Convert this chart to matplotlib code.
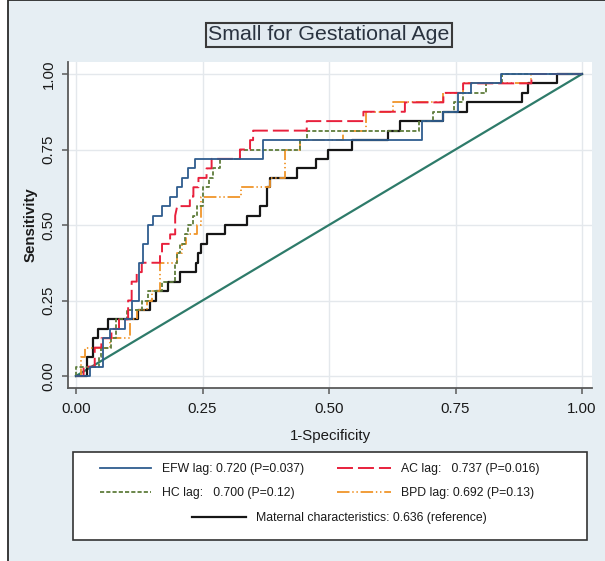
import matplotlib
matplotlib.use("Agg")
import matplotlib.pyplot as plt
from matplotlib.patches import Rectangle

# ---------------- data (FPR, TPR step vertices) ----------------
efw_x = [0, 0.028, 0.028, 0.054, 0.054, 0.067, 0.067, 0.097, 0.097, 0.11, 0.11, 0.125, 0.125,
         0.133, 0.133, 0.143, 0.143, 0.153, 0.153, 0.169, 0.169, 0.186, 0.186, 0.199, 0.199,
         0.209, 0.209, 0.222, 0.222, 0.235, 0.235, 0.37, 0.37, 0.683, 0.683, 0.725, 0.725,
         0.755, 0.755, 0.78, 0.78, 0.84, 0.84, 1.0]
efw_y = [0, 0, 0.031, 0.031, 0.125, 0.125, 0.156, 0.156, 0.188, 0.188, 0.25, 0.25, 0.375,
         0.375, 0.438, 0.438, 0.5, 0.5, 0.531, 0.531, 0.5625, 0.5625, 0.594, 0.594, 0.625,
         0.625, 0.656, 0.656, 0.6875, 0.6875, 0.719, 0.719, 0.781, 0.781, 0.844, 0.844, 0.875,
         0.875, 0.9375, 0.9375, 0.969, 0.969, 1.0, 1.0]

ac_x = [0, 0.015, 0.015, 0.037, 0.037, 0.05, 0.05, 0.07, 0.07, 0.085, 0.085, 0.103, 0.103,
        0.11, 0.11, 0.12, 0.12, 0.13, 0.13, 0.166, 0.166, 0.17, 0.17, 0.186, 0.186, 0.196,
        0.196, 0.2, 0.225, 0.225, 0.232, 0.232, 0.242, 0.242, 0.258, 0.258, 0.268, 0.268,
        0.324, 0.324, 0.344, 0.344, 0.35, 0.35, 0.456, 0.456, 0.568, 0.568, 0.65, 0.65,
        0.726, 0.726, 0.765, 0.765, 0.9, 0.9, 1.0]
ac_y = [0, 0, 0.031, 0.031, 0.094, 0.094, 0.125, 0.125, 0.156, 0.156, 0.1875, 0.1875, 0.25,
        0.25, 0.3125, 0.3125, 0.344, 0.344, 0.375, 0.375, 0.406, 0.406, 0.4375, 0.4375, 0.469,
        0.469, 0.531, 0.5625, 0.5625, 0.594, 0.594, 0.625, 0.625, 0.656, 0.656, 0.6875, 0.6875,
        0.719, 0.719, 0.75, 0.75, 0.781, 0.781, 0.8125, 0.8125, 0.844, 0.844, 0.875, 0.875,
        0.906, 0.906, 0.9375, 0.9375, 0.969, 0.969, 1.0, 1.0]

hc_x = [0, 0, 0.045, 0.045, 0.05, 0.05, 0.07, 0.07, 0.08, 0.08, 0.1, 0.1, 0.13, 0.13, 0.143,
        0.143, 0.17, 0.17, 0.195, 0.195, 0.2, 0.2, 0.206, 0.206, 0.216, 0.216, 0.222, 0.222,
        0.232, 0.232, 0.24, 0.24, 0.25, 0.25, 0.262, 0.262, 0.27, 0.27, 0.285, 0.285, 0.324,
        0.324, 0.443, 0.443, 0.456, 0.456, 0.677, 0.677, 0.706, 0.706, 0.748, 0.748, 0.764,
        0.764, 0.81, 0.81, 0.841, 0.841, 1.0]
hc_y = [0, 0.031, 0.031, 0.0625, 0.0625, 0.094, 0.094, 0.125, 0.125, 0.1875, 0.1875, 0.219,
        0.219, 0.25, 0.25, 0.281, 0.281, 0.3125, 0.3125, 0.375, 0.375, 0.406, 0.406, 0.4375,
        0.4375, 0.469, 0.469, 0.5, 0.5, 0.531, 0.531, 0.5625, 0.5625, 0.625, 0.625, 0.656,
        0.656, 0.6875, 0.6875, 0.719, 0.719, 0.75, 0.75, 0.781, 0.781, 0.8125, 0.8125, 0.844,
        0.844, 0.875, 0.875, 0.906, 0.906, 0.9375, 0.9375, 0.969, 0.969, 1.0, 1.0]

bpd_x = [0, 0.01, 0.01, 0.018, 0.018, 0.067, 0.067, 0.107, 0.107, 0.12, 0.12, 0.14, 0.14, 0.15,
         0.15, 0.166, 0.166, 0.2, 0.2, 0.21, 0.21, 0.218, 0.218, 0.24, 0.24, 0.248, 0.248,
         0.327, 0.327, 0.383, 0.383, 0.413, 0.413, 0.443, 0.443, 0.528, 0.528, 0.574, 0.574,
         0.627, 0.627, 0.726, 0.726, 0.765, 0.765, 0.9, 0.9, 1.0]
bpd_y = [0, 0, 0.0625, 0.0625, 0.094, 0.094, 0.125, 0.125, 0.1875, 0.1875, 0.219, 0.219, 0.25,
         0.25, 0.281, 0.281, 0.375, 0.375, 0.406, 0.406, 0.4375, 0.4375, 0.469, 0.469, 0.5,
         0.5, 0.594, 0.594, 0.625, 0.625, 0.656, 0.656, 0.75, 0.75, 0.781, 0.781, 0.8125,
         0.8125, 0.875, 0.875, 0.906, 0.906, 0.9375, 0.9375, 0.969, 0.969, 1.0, 1.0]

mat_x = [0, 0.021, 0.021, 0.034, 0.034, 0.044, 0.044, 0.064, 0.064, 0.123, 0.123, 0.146,
         0.146, 0.159, 0.159, 0.182, 0.182, 0.206, 0.206, 0.238, 0.238, 0.242, 0.242, 0.248,
         0.248, 0.258, 0.258, 0.294, 0.294, 0.337, 0.337, 0.364, 0.364, 0.377, 0.377, 0.383,
         0.383, 0.436, 0.436, 0.474, 0.474, 0.499, 0.499, 0.545, 0.545, 0.617, 0.617, 0.64,
         0.64, 0.726, 0.726, 0.772, 0.772, 0.881, 0.881, 0.894, 0.894, 0.95, 0.95, 1.0]
mat_y = [0, 0, 0.0625, 0.0625, 0.125, 0.125, 0.156, 0.156, 0.1875, 0.1875, 0.219, 0.219,
         0.25, 0.25, 0.281, 0.281, 0.3125, 0.3125, 0.344, 0.344, 0.375, 0.375, 0.406, 0.406,
         0.438, 0.438, 0.469, 0.469, 0.5, 0.5, 0.531, 0.531, 0.5625, 0.5625, 0.625, 0.625,
         0.656, 0.656, 0.6875, 0.6875, 0.719, 0.719, 0.75, 0.75, 0.781, 0.781, 0.8125, 0.8125,
         0.844, 0.844, 0.875, 0.875, 0.906, 0.906, 0.9375, 0.9375, 0.969, 0.969, 1.0, 1.0]

ref_x = [0, 1]
ref_y = [0, 1]

labels = ["EFW lag: 0.720 (P=0.037)", "AC lag:   0.737 (P=0.016)",
          "HC lag:   0.700 (P=0.12)", "BPD lag: 0.692 (P=0.13)",
          "Maternal characteristics: 0.636 (reference)"]
ticks = [0, 0.25, 0.5, 0.75, 1.0]
tick_labels = ["0.00", "0.25", "0.50", "0.75", "1.00"]
title = "Small for Gestational Age"

# ---------------- style ----------------
plt.rcParams['font.family'] = ['Liberation Sans', 'DejaVu Sans']
plt.rcParams['lines.scale_dashes'] = False

W, H = 605, 561
fig = plt.figure(figsize=(W / 100, H / 100), dpi=100, facecolor="white")

def fx(px):
    return px / W

def fy(py):
    return 1 - py / H

# outer panel with border (behind everything)
fig.patches.append(Rectangle((fx(8), fy(620)), fx(700), 620 / H, transform=fig.transFigure,
                             facecolor="#e6eef3", edgecolor="#2a2a2a", linewidth=1.3,
                             zorder=-5))

ax = fig.add_axes([fx(68), fy(388), fx(592) - fx(68), (388 - 62) / H])
ax.set_zorder(1)
ax.set_facecolor("white")
x0 = (68 - 76) / 506
x1 = (592 - 76) / 506
y0 = -(388 - 376) / 302
y1 = 1 + (74 - 62) / 302
ax.set_xlim(x0, x1)
ax.set_ylim(y0, y1)

ax.grid(True, color="#e4e8ec", linewidth=1.0)
ax.set_axisbelow(True)
for s in ["top", "right"]:
    ax.spines[s].set_visible(False)
for s in ["left", "bottom"]:
    ax.spines[s].set_color("#5a5a5a")
    ax.spines[s].set_linewidth(1.3)

ax.set_xticks(ticks)
ax.set_xticklabels(tick_labels)
ax.set_yticks(ticks)
ax.set_yticklabels(tick_labels, rotation=90, va="center")
ax.tick_params(axis="both", direction="out", length=4, width=1.1, color="#5a5a5a",
               labelsize=10.8, labelcolor="#1a1a1a")
ax.tick_params(axis="x", pad=6)
ax.tick_params(axis="y", pad=5)

ax.set_xlabel("1-Specificity", fontsize=10.8, color="#1a1a1a")
ax.xaxis.set_label_coords(0.5, (388 - 436) / 326)
ax.xaxis.label.set_va("center")
ax.set_ylabel("Sensitivity", fontsize=10.8, color="#1a1a1a", fontweight="bold")
ax.yaxis.set_label_coords((31 - 68) / 524, 0.5)
ax.yaxis.label.set_va("center")

c_efw = "#2f5d8f"
c_ac = "#e8203c"
c_hc = "#5f7d3c"
c_bpd = "#f0952a"
c_mat = "#161616"
c_ref = "#2e7b6a"

ax.plot(ref_x, ref_y, color=c_ref, linewidth=1.6, zorder=2)
l_mat, = ax.plot(mat_x, mat_y, color=c_mat, linewidth=1.6, zorder=3)
l_bpd, = ax.plot(bpd_x, bpd_y, color=c_bpd, linewidth=1.3, dashes=(9, 2, 1, 2, 1, 2), zorder=4)
l_hc, = ax.plot(hc_x, hc_y, color=c_hc, linewidth=1.3, dashes=(3, 1.5), zorder=5)
l_ac, = ax.plot(ac_x, ac_y, color=c_ac, linewidth=1.4, dashes=(11.5, 3.6), zorder=6)
l_efw, = ax.plot(efw_x, efw_y, color=c_efw, linewidth=1.3, zorder=7)

# title box
fig.text(fx(329), fy(35), title, ha="center", va="center", fontsize=15.4,
         color="#2a3340",
         bbox=dict(boxstyle="square,pad=0.12", facecolor="#e2eaf0", edgecolor="#3a3a3a",
                   linewidth=1.5))

# legend frame
fig.patches.append(Rectangle((fx(73), fy(540)), fx(587) - fx(73), (540 - 452) / H,
                             transform=fig.transFigure, facecolor="white",
                             edgecolor="#333333", linewidth=1.2, zorder=1))

handles = [l_efw, l_ac, l_hc, l_bpd, l_mat]
positions = [(100, 469), (337, 469), (100, 493), (337, 493), (192, 518)]
hlens = [4.2, 4.4, 4.2, 4.4, 4.4]
for h, lab, (px, py), hl in zip(handles, labels, positions, hlens):
    fig.legend(handles=[h], labels=[lab], loc="center left",
               bbox_to_anchor=(fx(px), fy(py)), frameon=False, fontsize=8.8,
               handlelength=hl, handletextpad=0.85, borderpad=0, borderaxespad=0,
               labelcolor="#1a1a1a")

fig.savefig("out.png", dpi=100, facecolor=fig.get_facecolor())
